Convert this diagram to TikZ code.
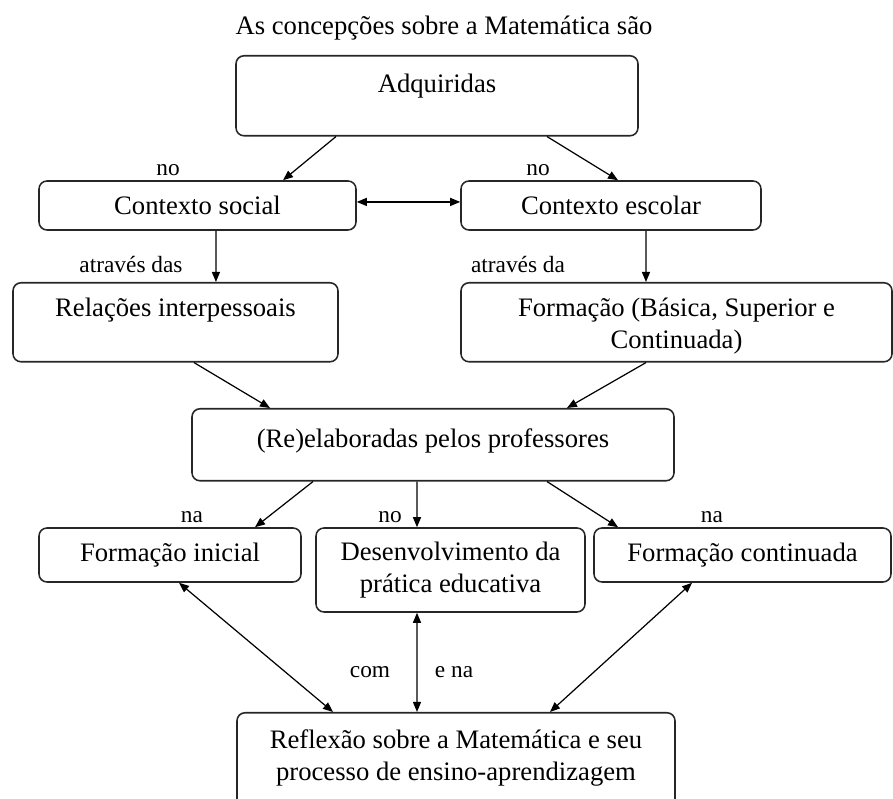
\documentclass[tikz,border=0pt]{standalone}
\usepackage{fontspec}
\setmainfont{Liberation Serif}
\usetikzlibrary{arrows.meta,positioning}

\begin{document}
\begin{tikzpicture}[
    x=0.45pt, y=-0.45pt,
    box/.style={draw=black!85, line width=0.7pt, rounded corners=3.6pt, align=center, inner xsep=2pt, inner ysep=0pt, font=\fontsize{12}{14.4}\selectfont},
    lbl/.style={anchor=base, inner sep=0pt, font=\fontsize{10.5}{12.6}\selectfont},
    arr/.style={-{Triangle[length=4.5pt, width=3.6pt]}, line width=0.55pt},
    darr/.style={{Triangle[length=4.5pt, width=3.6pt]}-{Triangle[length=4.5pt, width=3.6pt]}, line width=0.55pt}
]
    \useasboundingbox (0,0) rectangle (893,799);

    \node[anchor=base, inner sep=0pt, font=\fontsize{12}{14.4}\selectfont] (titulo) at (444,35) {As concepções sobre a Matemática são};

    \node[box, anchor=north, minimum width=180.9pt, text height=16.65pt, text depth=19.35pt] (adq) at (437,55) {Adquiridas};
    \node[box, minimum width=142.65pt, minimum height=22.05pt] (social) at (197.5,205.5) {Contexto social};
    \node[box, minimum width=135pt, minimum height=22.05pt] (escolar) at (611,205.5) {Contexto escolar};
    \node[box, anchor=north, minimum width=146.25pt, text height=15.3pt, text depth=20.25pt] (rel) at (175.5,282) {Relações interpessoais};
    \node[box, anchor=north, minimum width=193.95pt, text height=29.7pt, text depth=5.85pt] (form) at (676.5,282) {Formação (Básica, Superior e\\Continuada)};
    \node[box, anchor=north, minimum width=216.9pt, text height=17.55pt, text depth=14.85pt] (reel) at (433,408) {(Re)elaboradas pelos professores};
    \node[box, minimum width=117.9pt, minimum height=24.3pt] (inicial) at (170,555) {Formação inicial};
    \node[box, minimum width=121.05pt, minimum height=37.8pt] (desenv) at (450.5,570) {Desenvolvimento da\\prática educativa};
    \node[box, minimum width=133.65pt, minimum height=24.3pt] (continuada) at (742.5,555) {Formação continuada};
    \node[box, anchor=north, minimum width=197.1pt, text height=30.6pt, text depth=13.5pt] (reflex) at (456,712) {Reflexão sobre a Matemática e seu\\processo de ensino-aprendizagem};

    \node[lbl] (no1) at (168,176) {no};
    \node[lbl] (no2) at (538,176) {no};
    \node[lbl] (atraves1) at (131,273) {através das};
    \node[lbl] (atraves2) at (518,273) {através da};
    \node[lbl] (na1) at (192,523) {na};
    \node[lbl] (no3) at (390,523) {no};
    \node[lbl] (na2) at (712,523) {na};
    \node[lbl] (com) at (370,678) {com};
    \node[lbl] (ena) at (454,678) {e na};

    \draw[arr] ([xshift=-45.45pt]adq.south) -- ([xshift=38.48pt]social.north);
    \draw[arr] ([xshift=49.5pt]adq.south) -- ([xshift=3.15pt]escolar.north);
    \draw[darr] ([yshift=1.6pt]social.east) -- ([yshift=1.6pt]escolar.west);
    \draw[arr] ([xshift=8.3pt]social.south) -- ([xshift=18.2pt]rel.north);
    \draw[arr] ([xshift=15.75pt]escolar.south) -- ([xshift=-13.73pt]form.north);
    \draw[arr] ([xshift=8.3pt]rel.south) -- ([xshift=-73.35pt]reel.north);
    \draw[arr] ([xshift=-13.7pt]form.south) -- ([xshift=60.3pt]reel.north);
    \draw[arr] ([xshift=-54pt]reel.south) -- ([xshift=38.25pt]inicial.north);
    \draw[arr] ([xshift=-7.2pt]reel.south) -- ([xshift=-15.08pt]desenv.north);
    \draw[arr] ([xshift=51.3pt]reel.south) -- ([xshift=-56pt]continuada.north);
    \draw[darr] ([xshift=4.05pt]inicial.south) -- ([xshift=-55.35pt]reflex.north);
    \draw[darr] ([xshift=-15.08pt]desenv.south) -- ([xshift=-17.55pt]reflex.north);
    \draw[darr] ([xshift=-22.7pt]continuada.south) -- ([xshift=42.3pt]reflex.north);
\end{tikzpicture}
\end{document}
